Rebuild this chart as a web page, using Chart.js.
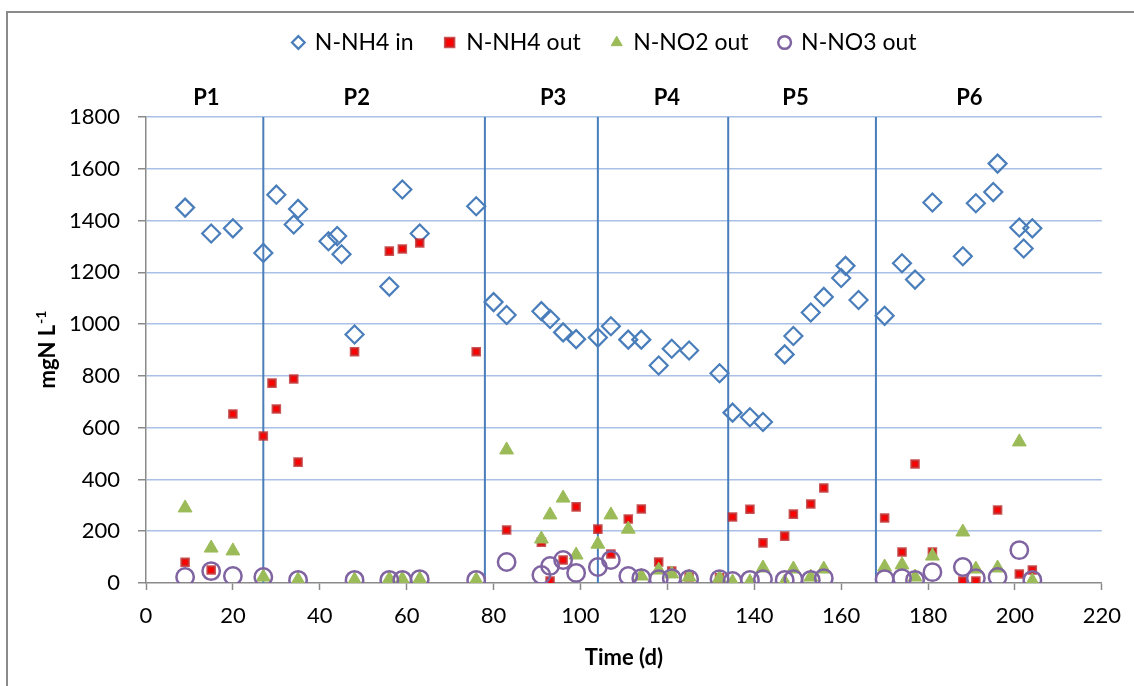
<!DOCTYPE html>
<html>
<head>
<meta charset="utf-8">
<title>N species over time</title>
<script src="https://cdn.jsdelivr.net/npm/chart.js@4.4.1/dist/chart.umd.min.js"></script>
<style>
  html, body { margin: 0; padding: 0; background: #fff; }
  #wrap { position: relative; width: 1134px; height: 686px; overflow: hidden; }
  #frame { position: absolute; left: 6px; top: 11px; right: -10px; bottom: -10px;
           border-left: 2px solid #8a8a8a; border-top: 2px solid #8a8a8a; }
  canvas { position: absolute; left: 0; top: 0; }
</style>
</head>
<body>
<div id="wrap">
  <div id="frame"></div>
  <canvas id="chart" width="1134" height="686"></canvas>
</div>
<script>
// ── DATA ──────────────────────────────────────────────────

const nh4InDays   = [9, 15, 20, 27, 30, 34, 35, 42, 44, 45, 48, 56, 59, 63, 76, 80, 83, 91, 93, 96, 99,
                     104, 107, 111, 114, 118, 121, 125, 132, 135, 139, 142, 147, 149, 153, 156, 160, 161,
                     164, 170, 174, 177, 181, 188, 191, 195, 196, 201, 202, 204];
const nh4InValues = [1450, 1350, 1370, 1275, 1500, 1385, 1445, 1320, 1340, 1270, 960, 1145, 1520, 1350, 1455,
                     1085, 1035, 1050, 1020, 968, 942, 948, 992, 940, 940, 840, 905, 898, 810, 658, 640, 622,
                     883, 954, 1045, 1105, 1178, 1225, 1093, 1032, 1235, 1172, 1470, 1262, 1467, 1510, 1620,
                     1373, 1292, 1370];

const nh4OutDays   = [9, 15, 20, 27, 29, 30, 34, 35, 48, 56, 59, 63, 76, 83, 91, 93, 96, 99, 104, 107, 111,
                      114, 118, 121, 125, 132, 135, 139, 142, 147, 149, 153, 156, 170, 174, 177, 181, 188,
                      191, 196, 201, 204];
const nh4OutValues = [80, 50, 653, 568, 772, 672, 788, 467, 893, 1282, 1290, 1313, 893, 205, 158, 8, 89, 294,
                      208, 112, 247, 286, 81, 46, 23, 20, 255, 285, 155, 181, 266, 305, 367, 251, 120, 460,
                      120, 8, 8, 282, 35, 50];

const outDays      = [9, 15, 20, 27, 35, 48, 56, 59, 63, 76, 83, 91, 93, 96, 99, 104, 107, 111, 114, 118,
                      121, 125, 132, 135, 139, 142, 147, 149, 153, 156, 170, 174, 177, 181, 188, 191, 196,
                      201, 204];
const no2OutValues = [290, 135, 124, 23, 12, 12, 15, 15, 15, 12, 514, 170, 263, 328, 108, 150, 263, 208, 27,
                      50, 35, 23, 19, 4, 4, 58, 4, 54, 23, 54, 62, 70, 23, 104, 197, 54, 58, 545, 8];
const no3OutValues = [23, 46, 27, 23, 12, 12, 12, 12, 15, 12, 81, 31, 66, 89, 39, 62, 89, 27, 19, 15, 19,
                      15, 15, 8, 12, 15, 12, 15, 12, 19, 15, 19, 12, 42, 62, 19, 23, 127, 12];

// period boundaries (d) and period label positions (d)
const periodBounds = [27, 78, 104, 134, 168];
const periodLabels = ['P1', 'P2', 'P3', 'P4', 'P5', 'P6'];
const periodLabelX = [13.9, 48.5, 93.7, 119.9, 149.5, 189.5];

const seriesNames = ['N-NH4 in', 'N-NH4 out', 'N-NO2 out', 'N-NO3 out'];
const xTitle = 'Time (d)';
const yTitle = 'mgN L';
const yTitleSup = '-1';

// ── HELPERS ───────────────────────────────────────────────

const pts = (days, vals) => days.map((d, i) => ({ x: d, y: vals[i] }));

const GRID = '#a9c1e6';
const AXIS = '#8a8a8a';
const FONT = 'Lato';

Chart.defaults.font.family = FONT;
Chart.defaults.color = '#000';

const periodLines = periodBounds.map(b => ({
    type: 'line',
    label: 'bound',
    data: [{ x: b, y: 0 }, { x: b, y: 1800 }],
    borderColor: '#4a7ebb',
    borderWidth: 2,
    pointRadius: 0,
    order: 10
}));

const axisTitles = {
    id: 'axisTitles',
    afterDraw(chart) {
        const { ctx, chartArea } = chart;
        ctx.save();
        ctx.fillStyle = '#000';
        ctx.font = `bold 22px ${FONT}`;
        ctx.textAlign = 'center';
        ctx.textBaseline = 'middle';
        ctx.fillText(xTitle, (chartArea.left + chartArea.right) / 2, chartArea.bottom + 75);

        ctx.translate(55, (chartArea.top + chartArea.bottom) / 2);
        ctx.rotate(-Math.PI / 2);
        const w1 = ctx.measureText(yTitle).width;
        ctx.font = `bold 14px ${FONT}`;
        const w2 = ctx.measureText(yTitleSup).width;
        const x0 = -(w1 + w2) / 2;
        ctx.textAlign = 'left';
        ctx.textBaseline = 'alphabetic';
        ctx.font = `bold 22px ${FONT}`;
        ctx.fillText(yTitle, x0, 0);
        ctx.font = `bold 14px ${FONT}`;
        ctx.fillText(yTitleSup, x0 + w1 + 1, -9);
        ctx.restore();
    }
};

// nudge the legend so it sits where the original one does
const legendShift = {
    id: 'legendShift',
    afterLayout(chart) {
        chart.legend.left -= 19;
        chart.legend.right -= 19;
    }
};

// ── CHART ─────────────────────────────────────────────────

new Chart(document.getElementById('chart'), {
    type: 'scatter',
    data: {
        datasets: [
            {
                label: seriesNames[0],
                data: pts(nh4InDays, nh4InValues),
                pointStyle: 'rectRot',
                radius: 9,
                backgroundColor: 'rgba(0,0,0,0)',
                borderColor: '#4a7ebb',
                borderWidth: 2.2,
                order: 4
            },
            {
                label: seriesNames[1],
                data: pts(nh4OutDays, nh4OutValues),
                pointStyle: 'rect',
                radius: 5,
                backgroundColor: '#ff0000',
                borderColor: 'rgba(190,40,40,0.8)',
                borderWidth: 2.5,
                order: 3
            },
            {
                label: seriesNames[2],
                data: pts(outDays, no2OutValues),
                pointStyle: 'triangle',
                radius: 8,
                backgroundColor: '#9bbb59',
                borderColor: '#9bbb59',
                borderWidth: 1,
                order: 2
            },
            {
                label: seriesNames[3],
                data: pts(outDays, no3OutValues),
                pointStyle: 'circle',
                radius: 8.7,
                backgroundColor: 'rgba(0,0,0,0)',
                borderColor: '#8064a2',
                borderWidth: 2.5,
                order: 1
            },
            ...periodLines
        ]
    },
    options: {
        responsive: false,
        animation: false,
        events: [],
        layout: { padding: { top: 0, left: 0, right: 30, bottom: 0 } },
        plugins: {
            tooltip: { enabled: false },
            legend: {
                position: 'top',
                fullSize: false,
                labels: {
                    usePointStyle: true,
                    boxWidth: 10,
                    boxHeight: 9,
                    padding: 31,
                    font: { size: 23 },
                    filter: item => item.text !== 'bound',
                    sort: (a, b) => a.datasetIndex - b.datasetIndex
                }
            }
        },
        scales: {
            x: {
                type: 'linear',
                position: 'bottom',
                min: 0,
                max: 220,
                afterFit: s => { s.height = 103; },
                ticks: { stepSize: 20, padding: 13, font: { size: 22 }, maxRotation: 0, callback: v => String(v) },
                grid: { drawOnChartArea: false, tickLength: 7, tickColor: AXIS, tickWidth: 1.5 },
                border: { color: AXIS, width: 1.5 }
            },
            xTop: {
                type: 'linear',
                position: 'top',
                min: 0,
                max: 220,
                afterFit: s => { s.height = 53; },
                afterBuildTicks: s => { s.ticks = periodLabelX.map(v => ({ value: v })); },
                ticks: {
                    autoSkip: false,
                    maxRotation: 0,
                    padding: 6,
                    font: { size: 22, weight: 'bold' },
                    callback: (v, i) => periodLabels[i]
                },
                grid: { display: false, drawTicks: false },
                border: { display: false }
            },
            y: {
                min: 0,
                max: 1800,
                afterFit: s => { s.width = 146; },
                ticks: { stepSize: 200, padding: 18, font: { size: 22 }, callback: v => String(v) },
                grid: {
                    color: c => c.tick && c.tick.value === 0 ? 'rgba(0,0,0,0)' : GRID,
                    lineWidth: 1.5,
                    tickLength: 8,
                    tickColor: AXIS,
                    tickWidth: 1.5
                },
                border: { color: AXIS, width: 1.5 }
            }
        }
    },
    plugins: [axisTitles, legendShift]
});
</script>
</body>
</html>
